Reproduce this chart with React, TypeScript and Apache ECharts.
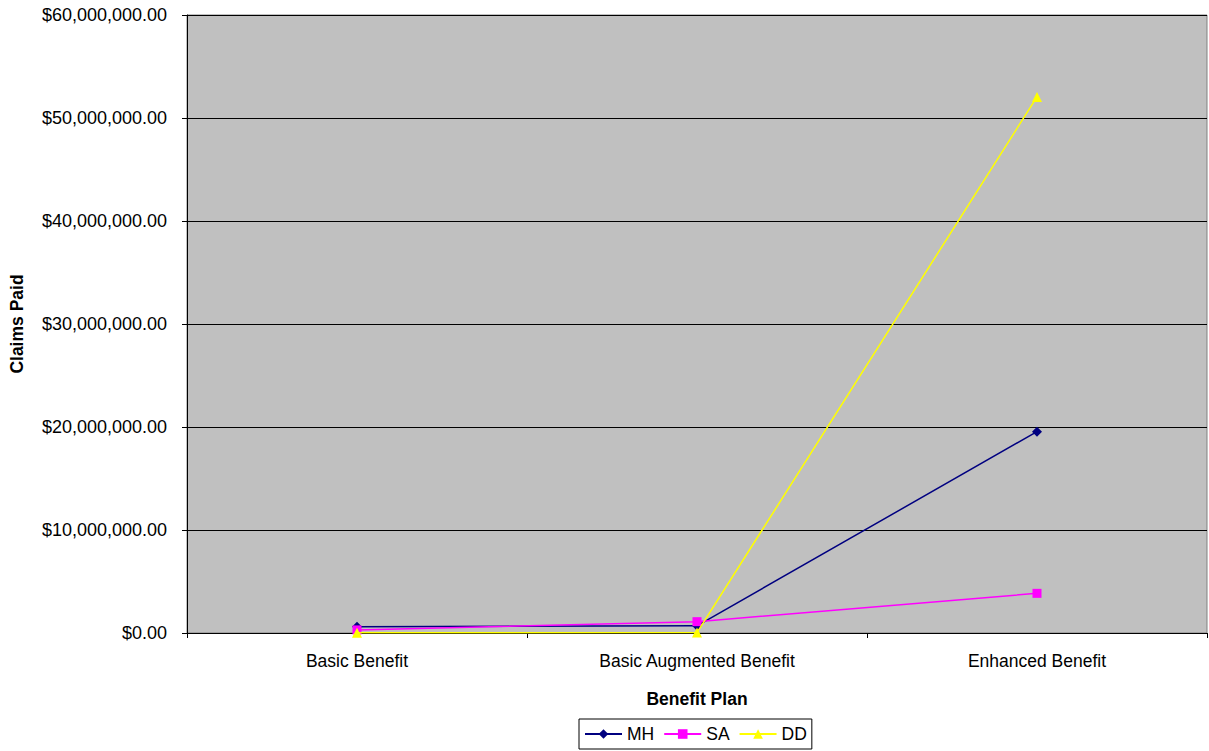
import React, { useEffect, useRef } from "react";
import * as echarts from "echarts";

const categories = ["Basic Benefit", "Basic Augmented Benefit", "Enhanced Benefit"];
const mhValues = [610000, 700000, 19550000];
const saValues = [300000, 1100000, 3850000];
const ddValues = [20000, 40000, 52050000];
const yMin = 0;
const yMax = 60000000;
const yInterval = 10000000;

const FONT = "'Liberation Sans', Arial, sans-serif";

function fmtMoney(v: number): string {
  const s = Math.round(v).toString().replace(/\B(?=(\d{3})+(?!\d))/g, ",");
  return "$" + s + ".00";
}

export default function App() {
  const ref = useRef<HTMLDivElement>(null);
  useEffect(() => {
    if (!ref.current) return;
    const chart = echarts.init(ref.current, null, { renderer: "svg" });
    const textStyle = { fontFamily: FONT, fontSize: 17.5, color: "#000" };
    chart.setOption({
      animation: false,
      backgroundColor: "#fff",
      textStyle: { fontFamily: FONT },
      grid: {
        left: 184,
        right: 2,
        top: 15,
        bottom: 118,
        show: true,
        backgroundColor: "#C0C0C0",
        borderColor: "#808080",
        borderWidth: 1,
      },
      legend: {
        left: 579,
        top: 719,
        padding: [6, 5, 6, 5],
        itemGap: 9,
        itemWidth: 37,
        itemHeight: 12,
        borderColor: "#000",
        borderWidth: 1,
        textStyle: { ...textStyle },
        data: ["MH", "SA", "DD"],
      },
      xAxis: {
        type: "category",
        data: categories,
        boundaryGap: true,
        name: "Benefit Plan",
        nameLocation: "middle",
        nameGap: 57,
        nameTextStyle: { ...textStyle, fontWeight: "bold" },
        axisLine: { lineStyle: { color: "#000", width: 1 } },
        axisTick: { show: true, length: 5, inside: false, lineStyle: { color: "#000" } },
        axisLabel: { ...textStyle, margin: 19 },
        splitLine: { show: false },
      },
      yAxis: {
        type: "value",
        min: yMin,
        max: yMax,
        interval: yInterval,
        name: "Claims Paid",
        nameLocation: "middle",
        nameGap: 161,
        nameTextStyle: { ...textStyle, fontWeight: "bold" },
        axisLine: { show: true, lineStyle: { color: "#000", width: 1 } },
        axisTick: { show: true, length: 5, lineStyle: { color: "#000" } },
        axisLabel: { ...textStyle, fontSize: 18, margin: 20, formatter: (v: number) => fmtMoney(v) },
        splitLine: { show: true, lineStyle: { color: "#000", width: 1 } },
      },
      series: [
        {
          name: "MH",
          type: "line",
          data: mhValues,
          symbol: "diamond",
          symbolSize: 10,
          itemStyle: { color: "#000080" },
          lineStyle: { color: "#000080", width: 1.5 },
          z: 3,
        },
        {
          name: "SA",
          type: "line",
          data: saValues,
          symbol: "rect",
          symbolSize: 9,
          itemStyle: { color: "#FF00FF" },
          lineStyle: { color: "#FF00FF", width: 1.5 },
          z: 4,
        },
        {
          name: "DD",
          type: "line",
          data: ddValues,
          symbol: "triangle",
          symbolSize: 10,
          itemStyle: { color: "#FFFF00" },
          lineStyle: { color: "#FFFF00", width: 1.5 },
          z: 5,
        },
      ],
    });
    return () => chart.dispose();
  }, []);
  return (
    <div
      ref={ref}
      style={{ position: "fixed", left: 0, top: 0, width: 1209, height: 751 }}
    />
  );
}
